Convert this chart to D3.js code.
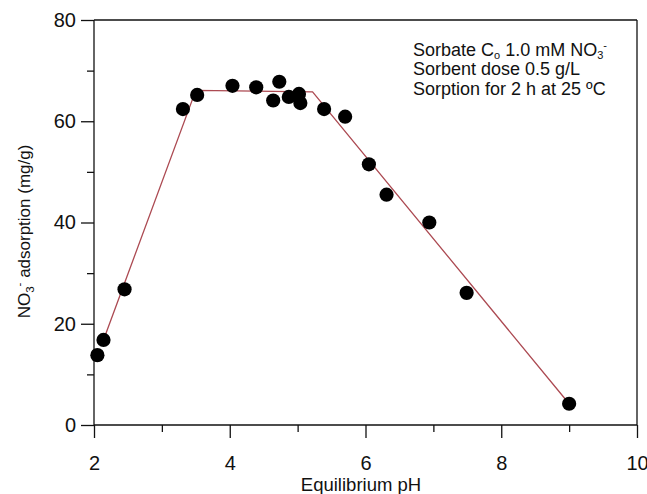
<!DOCTYPE html>
<html>
<head>
<meta charset="utf-8">
<script src="https://cdn.jsdelivr.net/npm/d3@7"></script>
<style>
  body { margin: 0; background: #fff; }
  svg { display: block; font-family: "Liberation Sans", Arial, Helvetica, sans-serif; }
</style>
</head>
<body>
<svg id="chart" width="647" height="494"></svg>
<script>
// Measured points: equilibrium pH and NO3- adsorption (mg/g)
const pointPH  = [2.05, 2.14, 2.45, 3.31, 3.52, 4.04, 4.39, 4.64, 4.73, 4.87, 5.02, 5.04, 5.39, 5.70, 6.05, 6.31, 6.94, 7.49, 9.00];
const pointAds = [13.8, 16.8, 26.8, 62.4, 65.2, 67.0, 66.7, 64.1, 67.8, 64.8, 65.4, 63.6, 62.4, 60.9, 51.5, 45.5, 40.0, 26.1, 4.2];

// Piecewise fitted line
const fitPH  = [2.14, 3.50, 5.22, 9.00];
const fitAds = [16.8, 66.1, 65.8, 4.2];

const xMajorTicks = [2, 4, 6, 8, 10];
const xMinorTicks = [3, 5, 7, 9];
const yMajorTicks = [0, 20, 40, 60, 80];
const yMinorTicks = [10, 30, 50, 70];

// each part: text and baseline offset (0 normal, +3 subscript, -7 superscript)
const annotationLines = [
  [["Sorbate C", 0], ["o", 3], [" 1.0 mM NO", 0], ["3", 3], ["-", -7]],
  [["Sorbent dose 0.5 g/L", 0]],
  [["Sorption for 2 h at 25 \u00baC", 0]]
];

const svg = d3.select("#chart");
const mLeft = 94, mRight = 637, mTop = 20, mBottom = 425;

const x = d3.scaleLinear().domain([2, 10]).range([mLeft, mRight]);
const y = d3.scaleLinear().domain([0, 80]).range([mBottom, mTop]);

const axisColor = "#111";
const tickFont = 20;

// Frame: top and right borders
svg.append("line").attr("x1", mLeft).attr("x2", mRight).attr("y1", mTop).attr("y2", mTop)
  .attr("stroke", axisColor).attr("stroke-width", 1.3);
svg.append("line").attr("x1", mRight).attr("x2", mRight).attr("y1", mTop).attr("y2", mBottom)
  .attr("stroke", axisColor).attr("stroke-width", 1.3);

// X axis
const xAxis = svg.append("g").attr("transform", `translate(0,${mBottom})`)
  .call(d3.axisBottom(x).tickValues(xMajorTicks).tickSize(13).tickPadding(18).tickFormat(d3.format("d")));
svg.append("g").attr("transform", `translate(0,${mBottom})`)
  .call(d3.axisBottom(x).tickValues(xMinorTicks).tickSize(7).tickFormat(""))
  .select(".domain").remove();

// Y axis
const yAxis = svg.append("g").attr("transform", `translate(${mLeft},0)`)
  .call(d3.axisLeft(y).tickValues(yMajorTicks).tickSize(13).tickPadding(5).tickFormat(d3.format("d")));
svg.append("g").attr("transform", `translate(${mLeft},0)`)
  .call(d3.axisLeft(y).tickValues(yMinorTicks).tickSize(7).tickFormat(""))
  .select(".domain").remove();

svg.selectAll(".domain").attr("stroke", axisColor).attr("stroke-width", 1.3);
svg.selectAll(".tick line").attr("stroke", axisColor).attr("stroke-width", 1.3);
svg.selectAll(".tick text").attr("font-size", tickFont).attr("fill", "#111")
  .attr("font-family", "'Liberation Sans', Arial, sans-serif");
xAxis.select(".domain").attr("d", `M${mLeft},0H${mRight}`);
yAxis.select(".domain").attr("d", `M0,${mBottom}V${mTop}`);

// Axis titles
svg.append("text").attr("x", 361).attr("y", 491)
  .attr("text-anchor", "middle").attr("font-size", 18.5).attr("fill", "#111")
  .text("Equilibrium pH");

const yt = svg.append("text")
  .attr("transform", `translate(30,${(y(0) + y(80)) / 2 + 9}) rotate(-90)`)
  .attr("text-anchor", "middle").attr("font-size", 17).attr("fill", "#111");
yt.append("tspan").text("NO");
yt.append("tspan").attr("font-size", 11.5).attr("dy", 4).text("3");
yt.append("tspan").attr("font-size", 11.5).attr("dy", -11).text("-");
yt.append("tspan").attr("dy", 7).text(" adsorption (mg/g)");

// Fit line
const fitData = fitPH.map((p, i) => ({ph: p, v: fitAds[i]}));
svg.append("path").datum(fitData)
  .attr("fill", "none").attr("stroke", "#ac4a52").attr("stroke-width", 1.3)
  .attr("d", d3.line().x(d => x(d.ph)).y(d => y(d.v)));

// Points
const pts = pointPH.map((p, i) => ({ph: p, v: pointAds[i]}));
svg.append("g").selectAll("circle").data(pts).join("circle")
  .attr("cx", d => x(d.ph)).attr("cy", d => y(d.v)).attr("r", 7.1)
  .attr("fill", "#000");

// Annotation
const annX = 413, annY0 = 56, annDy = 19.3;
annotationLines.forEach((parts, i) => {
  const t = svg.append("text").attr("x", annX).attr("y", annY0 + i * annDy)
    .attr("font-size", 18).attr("fill", "#111");
  let cur = 0;
  parts.forEach(([txt, off]) => {
    const ts = t.append("tspan").text(txt).attr("dy", off - cur);
    if (off !== 0) ts.attr("font-size", 11);
    cur = off;
  });
});
</script>
</body>
</html>
